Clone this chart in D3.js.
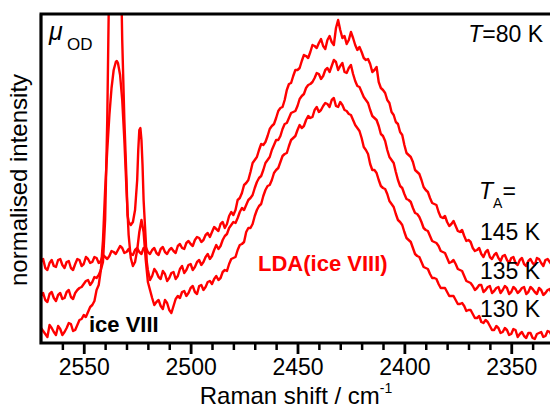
<!DOCTYPE html>
<html>
<head>
<meta charset="utf-8">
<script src="https://cdn.jsdelivr.net/npm/d3@7"></script>
<style>
body { margin: 0; background: #fff; }
svg { display: block; font-family: Arial, "Liberation Sans", sans-serif; }
</style>
</head>
<body>
<script>
var w = 550;
var h = 409;

// x axis (Raman shift, cm^-1), reversed
var xDomain = [2570, 2330];
var majorTicks = [2550, 2500, 2450, 2400, 2350];
var minorTicks = [2560, 2540, 2530, 2520, 2510, 2490, 2480, 2470, 2460, 2440, 2430, 2420, 2410, 2390, 2380, 2370, 2360, 2340];

// spectra: [shift, intensity (a.u.)]
var spec145 = [[2570,81],[2568,75],[2566,80],[2564,77],[2562,83],[2560,78],[2558,81],[2556,75],[2554,79],[2552,83],
  [2550,79],[2548,84],[2546,81],[2544,85],[2542,82],[2540,86],[2538,87],[2536,91],[2534,93],[2532,95],
  [2530,91],[2528,89],[2526,93],[2524,91],[2522,95],[2520,91],[2518,93],[2516,90],[2514,94],[2512,91],
  [2510,93],[2508,92],[2506,97],[2504,95],[2502,100],[2500,99],[2498,103],[2496,105],[2494,103],[2492,110],
  [2490,111],[2488,114],[2486,119],[2484,115],[2482,127],[2480,128],[2478,143],[2476,150],[2474,160],[2472,171],
  [2470,183],[2468,193],[2466,198],[2464,207],[2462,217],[2460,225],[2458,235],[2456,243],[2454,259],[2452,267],
  [2450,273],[2448,282],[2446,287],[2444,291],[2442,297],[2440,300],[2438,297],[2436,303],[2434,301],[2432,315],
  [2431,323],[2430,313],[2428,307],[2427,299],[2426,303],[2425,311],[2424,305],[2422,293],[2420,291],[2418,283],
  [2416,279],[2414,273],[2412,261],[2410,253],[2408,243],[2406,231],[2404,221],[2402,211],[2400,198],[2398,188],
  [2396,181],[2394,171],[2392,163],[2390,153],[2388,145],[2386,139],[2384,131],[2382,125],[2380,121],[2378,119],
  [2376,117],[2374,111],[2372,107],[2370,103],[2368,95],[2366,93],[2364,89],[2362,91],[2360,86],[2358,88],
  [2356,85],[2354,87],[2352,83],[2350,85],[2348,80],[2346,83],[2344,79],[2342,82],[2340,80],[2338,85],
  [2336,80],[2334,83],[2332,81],[2330,85]];
var noise145 = [[2569,84],[2567,73],[2565,83],[2563,76],[2561,84],[2559,75],[2557,82],[2555,73],[2553,84],[2551,77],
  [2549,86],[2547,80],[2545,86],[2543,80],[2541,88],[2539,84],[2537,92],[2535,89],[2533,97],[2531,90],
  [2529,94],[2527,88],[2525,95],[2523,89],[2521,96],[2519,89],[2517,95],[2515,88],[2513,96],[2511,89],
  [2509,95],[2507,90],[2505,99],[2503,94],[2501,102],[2499,97],[2497,106],[2495,101],[2493,108],[2491,106],
  [2489,116],[2487,112],[2485,121],[2483,119],[2481,131],[2479,133],[2477,145],[2475,158],[2473,163],[2471,180],
  [2469,186],[2467,199],[2465,201],[2463,214],[2461,219],[2459,232],[2457,236],[2455,253],[2453,260],[2451,273],
  [2449,275],[2447,288],[2445,285],[2443,298],[2441,295],[2439,304],[2437,294],[2435,307],[2433,298],[2429,305],
  [2423,298],[2421,296],[2419,285],[2417,284],[2415,271],[2413,276],[2411,255],[2409,250],[2407,240],[2405,228],
  [2403,219],[2401,208],[2399,190],[2397,186],[2395,173],[2393,169],[2391,156],[2389,151],[2387,140],[2385,138],
  [2383,126],[2381,127],[2379,117],[2377,122],[2375,112],[2373,113],[2371,102],[2369,101],[2367,92],[2365,95],
  [2363,86],[2361,93],[2359,84],[2357,90],[2355,82],[2353,88],[2351,80],[2349,86],[2347,78],[2345,85],
  [2343,77],[2341,84],[2339,78],[2337,84],[2335,77],[2333,84],[2331,78]];

var spec135 = [[2570,47],[2568,43],[2566,49],[2564,45],[2562,48],[2560,44],[2558,51],[2556,46],[2554,50],[2552,55],
  [2550,59],[2548,63],[2546,61],[2544,65],[2542,73],[2541,81],[2540,123],[2539,223],[2538.5,303],[2538,383],
  [2537,493],[2536,543],[2535,553],[2534,533],[2533,443],[2532.5,363],[2532,303],[2531,223],[2530,163],[2529.5,128],
  [2529,121],[2528,118],[2527,121],[2526,133],[2525,163],[2524.5,193],[2524,213],[2523.5,215],[2523,203],[2522.5,178],
  [2522,143],[2521,103],[2520.5,81],[2520,73],[2518,67],[2516,71],[2514,64],[2512,69],[2510,65],[2508,71],
  [2506,67],[2504,77],[2502,73],[2500,79],[2498,76],[2496,83],[2494,81],[2492,89],[2490,87],[2488,98],
  [2486,97],[2484,107],[2482,115],[2480,121],[2478,125],[2476,135],[2474,138],[2472,145],[2470,155],[2468,165],
  [2466,173],[2464,183],[2462,193],[2460,203],[2458,207],[2456,219],[2454,225],[2452,231],[2450,237],[2448,247],
  [2446,255],[2444,259],[2442,265],[2440,269],[2438,267],[2436,275],[2434,277],[2432,281],[2431,273],[2430,277],
  [2428,271],[2426,275],[2424,269],[2422,257],[2420,251],[2418,243],[2416,233],[2414,225],[2412,217],[2410,207],
  [2408,193],[2406,183],[2404,171],[2402,157],[2400,149],[2398,143],[2396,135],[2394,129],[2392,121],[2390,113],
  [2388,107],[2386,101],[2384,97],[2382,91],[2380,85],[2378,81],[2376,79],[2374,73],[2372,67],[2370,61],
  [2368,57],[2366,55],[2364,58],[2362,53],[2360,57],[2358,52],[2356,56],[2354,53],[2352,55],[2350,51],
  [2348,54],[2346,52],[2344,56],[2342,51],[2340,54],[2338,49],[2336,53],[2334,50],[2332,54],[2330,51]];
var noise135 = [[2569,50],[2567,41],[2565,51],[2563,42],[2561,50],[2559,45],[2557,53],[2555,44],[2553,53],[2551,56],
  [2549,62],[2547,58],[2545,66],[2543,68],[2519,63],[2517,74],[2515,66],[2513,72],[2511,62],[2509,70],
  [2507,64],[2505,74],[2503,70],[2501,78],[2499,73],[2497,81],[2495,78],[2493,86],[2491,84],[2489,93],
  [2487,94],[2485,103],[2483,109],[2481,118],[2479,120],[2477,131],[2475,133],[2473,143],[2471,148],[2469,161],
  [2467,167],[2465,180],[2463,186],[2461,198],[2459,203],[2457,214],[2455,220],[2453,230],[2451,232],[2449,244],
  [2447,249],[2445,258],[2443,261],[2441,270],[2439,264],[2437,273],[2435,271],[2433,283],[2429,280],[2427,270],
  [2425,278],[2423,262],[2421,256],[2419,246],[2417,240],[2415,227],[2413,223],[2411,209],[2409,202],[2407,186],
  [2405,180],[2403,163],[2401,155],[2399,144],[2397,141],[2395,130],[2393,126],[2391,115],[2389,112],[2387,102],
  [2385,100],[2383,92],[2381,90],[2379,80],[2377,83],[2375,74],[2373,72],[2371,62],[2369,60],[2367,53],
  [2365,58],[2363,51],[2361,56],[2359,50],[2357,55],[2355,50],[2353,57],[2351,49],[2349,56],[2347,50],
  [2345,55],[2343,49],[2341,56],[2339,51],[2337,55],[2335,48],[2333,53],[2331,49]];

var spec130 = [[2570,15],[2568,9],[2566,18],[2564,11],[2562,17],[2560,8],[2558,15],[2556,19],[2554,13],[2552,23],
  [2550,28],[2548,31],[2546,38],[2544,53],[2543,58],[2542,73],[2541,103],[2540,153],[2539,193],[2538,228],
  [2537,255],[2536,273],[2535,281],[2534.5,282],[2534,280],[2533,268],[2532,243],[2531,203],[2530,153],[2529,108],
  [2528,85],[2527,77],[2526,81],[2525,93],[2524,111],[2523,123],[2522,111],[2521,83],[2520,61],[2519,53],
  [2518,45],[2516,41],[2514,37],[2512,43],[2510,33],[2508,37],[2506,47],[2504,51],[2502,47],[2500,55],
  [2498,51],[2496,57],[2494,53],[2492,61],[2490,59],[2488,67],[2486,65],[2484,73],[2482,79],[2480,85],
  [2478,93],[2476,99],[2474,111],[2472,115],[2470,127],[2468,137],[2466,147],[2464,157],[2462,163],[2460,173],
  [2458,181],[2456,189],[2454,197],[2452,205],[2450,213],[2448,215],[2446,223],[2444,225],[2442,233],[2440,231],
  [2438,237],[2436,239],[2434,243],[2432,237],[2430,241],[2428,233],[2426,229],[2424,223],[2422,215],[2420,205],
  [2418,193],[2416,179],[2414,173],[2412,163],[2410,155],[2408,149],[2406,139],[2404,129],[2402,121],[2400,111],
  [2398,103],[2396,95],[2394,87],[2392,81],[2390,75],[2388,69],[2386,65],[2384,59],[2382,55],[2380,51],
  [2378,47],[2376,43],[2374,39],[2372,37],[2370,33],[2368,29],[2366,25],[2364,21],[2362,23],[2360,17],
  [2358,13],[2356,15],[2354,11],[2352,13],[2350,9],[2348,13],[2346,9],[2344,7],[2342,10],[2340,5],
  [2338,9],[2336,11],[2334,7],[2332,11],[2330,9]];
var noise130 = [[2569,12],[2567,6],[2565,15],[2563,8],[2561,14],[2559,11],[2557,20],[2555,12],[2553,18],[2551,24],
  [2549,26],[2547,36],[2545,42],[2517,38],[2515,43],[2513,34],[2511,40],[2509,30],[2507,44],[2505,45],
  [2503,52],[2501,50],[2499,57],[2497,49],[2495,58],[2493,56],[2491,62],[2489,64],[2487,63],[2485,71],
  [2483,72],[2481,84],[2479,86],[2477,98],[2475,101],[2473,115],[2471,119],[2469,133],[2467,139],[2465,153],
  [2463,158],[2461,170],[2459,175],[2457,187],[2455,190],[2453,203],[2451,207],[2449,218],[2447,217],[2445,227],
  [2443,226],[2441,236],[2439,233],[2437,240],[2435,236],[2433,245],[2431,236],[2429,238],[2427,232],[2425,228],
  [2423,218],[2421,212],[2419,196],[2417,189],[2415,173],[2413,170],[2411,157],[2409,154],[2407,142],[2405,136],
  [2403,123],[2401,118],[2399,105],[2397,101],[2395,89],[2393,86],[2391,76],[2389,74],[2387,65],[2385,64],
  [2383,55],[2381,55],[2379,47],[2377,47],[2375,39],[2373,40],[2371,32],[2369,33],[2367,25],[2365,27],
  [2363,20],[2361,21],[2359,13],[2357,17],[2355,10],[2353,15],[2351,8],[2349,14],[2347,6],[2345,11],
  [2343,5],[2341,10],[2339,4],[2337,10],[2335,6],[2333,12],[2331,7]];

var tempLabels = ["145 K", "135 K", "130 K"];

var pLeft = 41, pTop = 14, pBottom = 343, pRight = 554;

var x = d3.scaleLinear().domain(xDomain).range([pLeft, pRight]);
var y = d3.scaleLinear().domain([0, 329]).range([pBottom, pTop]);

function merge(a, b) {
    return a.concat(b).sort(function (p, q) { return q[0] - p[0]; });
}
var spectra = [merge(spec145, noise145), merge(spec135, noise135), merge(spec130, noise130)];

var svg = d3.select("body")
    .append("svg")
    .attr("width", w)
    .attr("height", h);

svg.append("clipPath")
    .attr("id", "plotclip")
    .append("rect")
    .attr("x", pLeft)
    .attr("y", pTop)
    .attr("width", pRight - pLeft)
    .attr("height", pBottom - pTop);

var line = d3.line()
    .x(function (d) { return x(d[0]); })
    .y(function (d) { return y(d[1]); });

svg.append("g")
    .attr("clip-path", "url(#plotclip)")
    .selectAll("path")
    .data(spectra)
    .enter()
    .append("path")
    .attr("d", line)
    .attr("fill", "none")
    .attr("stroke", "#ff0000")
    .attr("stroke-width", 2.4)
    .attr("stroke-linejoin", "round");

// minor ticks
svg.append("g")
    .attr("transform", "translate(0," + pBottom + ")")
    .call(d3.axisBottom(x).tickValues(minorTicks).tickSize(7).tickFormat(""))
    .call(function (g) {
        g.select(".domain").remove();
        g.selectAll("line").attr("stroke", "#000").attr("stroke-width", 2.5);
    });

// major ticks + labels
svg.append("g")
    .attr("transform", "translate(0," + pBottom + ")")
    .call(d3.axisBottom(x).tickValues(majorTicks).tickSize(11).tickPadding(5).tickFormat(d3.format("d")))
    .call(function (g) {
        g.select(".domain").remove();
        g.selectAll("line").attr("stroke", "#000").attr("stroke-width", 2.8);
        g.selectAll("text")
            .attr("fill", "#000")
            .attr("font-size", 23)
            .attr("font-family", "Arial, 'Liberation Sans', sans-serif");
    });

// frame
svg.append("path")
    .attr("d", "M" + pLeft + "," + pBottom + "H" + w + "M" + pLeft + "," + (pBottom + 1.5) + "V" + pTop + "M" + (pLeft - 1.5) + "," + pTop + "H" + w)
    .attr("fill", "none")
    .attr("stroke", "#000")
    .attr("stroke-width", 3.2);

// axis titles
var xt = svg.append("text")
    .attr("x", 296)
    .attr("y", 404)
    .attr("text-anchor", "middle")
    .attr("font-size", 24);
xt.append("tspan").text("Raman shift / cm");
xt.append("tspan").attr("font-size", 14).attr("dy", -11).text("-1");

svg.append("text")
    .attr("transform", "translate(27,180) rotate(-90)")
    .attr("text-anchor", "middle")
    .attr("font-size", 24)
    .text("normalised intensity");

// annotations
svg.append("text")
    .attr("x", 49).attr("y", 40)
    .attr("font-size", 25).attr("font-style", "italic")
    .text("\u03bc");
svg.append("text")
    .attr("x", 67).attr("y", 50)
    .attr("font-size", 17)
    .text("OD");

var tt = svg.append("text")
    .attr("x", 543).attr("y", 42)
    .attr("text-anchor", "end")
    .attr("font-size", 23);
tt.append("tspan").attr("font-style", "italic").text("T");
tt.append("tspan").text("=80 K");

var ta = svg.append("text")
    .attr("x", 479).attr("y", 199)
    .attr("font-size", 23);
ta.append("tspan").attr("font-style", "italic").text("T");
ta.append("tspan").attr("font-size", 14).attr("dy", 9).text("A");
ta.append("tspan").attr("dy", -9).text("=");

svg.selectAll(".tlab")
    .data(tempLabels)
    .enter()
    .append("text")
    .attr("class", "tlab")
    .attr("x", 480)
    .attr("y", function (d, i) { return 240 + i * 38.5; })
    .attr("font-size", 23)
    .text(function (d) { return d; });

svg.append("text")
    .attr("x", 258).attr("y", 271)
    .attr("font-size", 22).attr("font-weight", "bold")
    .attr("fill", "#ff0000")
    .text("LDA(ice VIII)");

svg.append("text")
    .attr("x", 89).attr("y", 332)
    .attr("font-size", 22).attr("font-weight", "bold")
    .attr("fill", "#000")
    .text("ice VIII");
</script>
</body>
</html>
